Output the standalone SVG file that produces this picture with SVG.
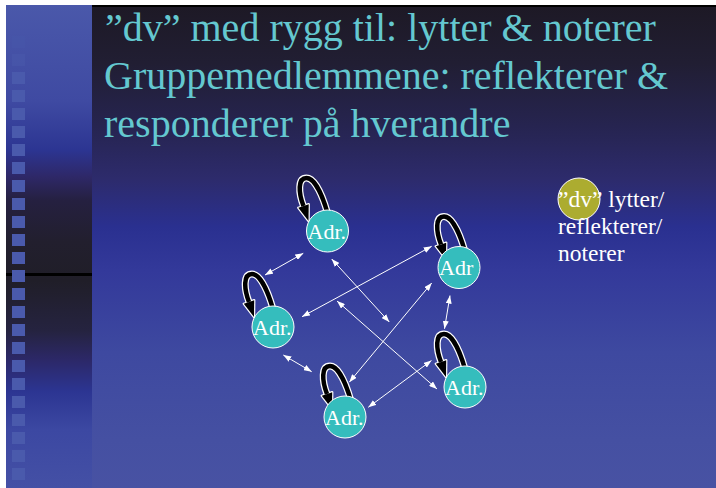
<svg xmlns="http://www.w3.org/2000/svg" xmlns:xlink="http://www.w3.org/1999/xlink" width="716" height="488" viewBox="0 0 716 488">
<defs>
<linearGradient id="gMain" x1="0" y1="5" x2="0" y2="488" gradientUnits="userSpaceOnUse">
<stop offset="0" stop-color="#1d1925"/>
<stop offset="0.12" stop-color="#211e33"/>
<stop offset="0.25" stop-color="#262450"/>
<stop offset="0.36" stop-color="#2d2b6c"/>
<stop offset="0.46" stop-color="#2a3090"/>
<stop offset="0.55" stop-color="#33399a"/>
<stop offset="0.72" stop-color="#3e49a0"/>
<stop offset="0.9" stop-color="#4550a2"/>
<stop offset="1" stop-color="#4852a3"/>
</linearGradient>
<linearGradient id="gStrip" x1="0" y1="5" x2="0" y2="488" gradientUnits="userSpaceOnUse">
<stop offset="0" stop-color="#4a58aa"/>
<stop offset="0.2" stop-color="#3f4aa2"/>
<stop offset="0.3" stop-color="#2c3592"/>
<stop offset="0.355" stop-color="#2e2868"/>
<stop offset="0.405" stop-color="#252040"/>
<stop offset="0.49" stop-color="#221f2e"/>
<stop offset="0.57" stop-color="#201e28"/>
<stop offset="0.675" stop-color="#252340"/>
<stop offset="0.735" stop-color="#2c2868"/>
<stop offset="0.8" stop-color="#2c3592"/>
<stop offset="0.88" stop-color="#3c48a2"/>
<stop offset="1" stop-color="#4450a5"/>
</linearGradient>
<marker id="ah" viewBox="0 0 8 6" refX="8" refY="3" markerWidth="8" markerHeight="6" markerUnits="userSpaceOnUse" orient="auto-start-reverse">
<path d="M0,0 L8,3 L0,6 z" fill="#ffffff"/>
</marker>
<g id="loop">
<path d="M0,-18 C-4,-32 -12,-53 -21,-53 C-30,-53 -29,-38 -24,-25" fill="none" stroke="#ffffff" stroke-width="7"/>
<polygon points="-19,-10 -29.2,-23.2 -18.8,-26.8" fill="#ffffff" stroke="#ffffff" stroke-width="2.4" stroke-linejoin="round"/>
<path d="M0,-18 C-4,-32 -12,-53 -21,-53 C-30,-53 -29,-38 -24,-25" fill="none" stroke="#000000" stroke-width="4.5"/>
<polygon points="-19,-10 -29.2,-23.2 -18.8,-26.8" fill="#000000"/>
</g>
</defs>
<style>
.title{font-family:"Liberation Serif","Times New Roman",serif;font-size:40px;fill:#64c8d0}
.legend{font-family:"Liberation Serif","Times New Roman",serif;font-size:23.5px;fill:#ffffff}
.node circle{fill:#35bdbd;stroke:#ffffff;stroke-width:1}
.node text{font-family:"Liberation Serif","Times New Roman",serif;font-size:22px;fill:#ffffff}
.conn line{stroke:#ffffff;stroke-width:1;marker-start:url(#ah);marker-end:url(#ah)}
.sq{fill:#4a5aac}
</style>
<rect x="0" y="0" width="716" height="488" fill="#ffffff"/>
<rect x="92" y="5" width="624" height="483" fill="url(#gMain)"/>
<rect x="92" y="5" width="624" height="2" fill="#000000"/>
<rect x="6" y="5" width="86" height="483" fill="url(#gStrip)"/>
<rect x="6" y="273" width="86" height="3" fill="#000000"/>
<g id="squares">
<rect class="sq" x="12" y="36" width="13" height="12" opacity="0.3"/>
<rect class="sq" x="12" y="54" width="13" height="12" opacity="0.5"/>
<rect class="sq" x="12" y="72" width="13" height="12"/>
<rect class="sq" x="12" y="90" width="13" height="12"/>
<rect class="sq" x="12" y="108" width="13" height="12"/>
<rect class="sq" x="12" y="126" width="13" height="12"/>
<rect class="sq" x="12" y="144" width="13" height="12"/>
<rect class="sq" x="12" y="162" width="13" height="12"/>
<rect class="sq" x="12" y="180" width="13" height="12"/>
<rect class="sq" x="12" y="198" width="13" height="12"/>
<rect class="sq" x="12" y="216" width="13" height="12"/>
<rect class="sq" x="12" y="234" width="13" height="12"/>
<rect class="sq" x="12" y="252" width="13" height="12"/>
<rect class="sq" x="12" y="270" width="13" height="12"/>
<rect class="sq" x="12" y="288" width="13" height="12"/>
<rect class="sq" x="12" y="306" width="13" height="12"/>
<rect class="sq" x="12" y="324" width="13" height="12"/>
<rect class="sq" x="12" y="342" width="13" height="12"/>
<rect class="sq" x="12" y="360" width="13" height="12"/>
<rect class="sq" x="12" y="378" width="13" height="12"/>
<rect class="sq" x="12" y="396" width="13" height="12"/>
<rect class="sq" x="12" y="414" width="13" height="12"/>
<rect class="sq" x="12" y="432" width="13" height="12"/>
<rect class="sq" x="12" y="450" width="13" height="12"/>
<rect class="sq" x="12" y="468" width="13" height="12"/>
</g>
<g id="title">
<text class="title" x="105" y="41">”dv” med rygg til: lytter &amp; noterer</text>
<text class="title" x="104" y="89">Gruppemedlemmene: reflekterer &amp;</text>
<text class="title" x="104" y="137">responderer på hverandre</text>
</g>
<g id="connectors" class="conn">
<line x1="303.3" y1="253.3" x2="265" y2="275"/>
<line x1="331.7" y1="259" x2="389.3" y2="322"/>
<line x1="302" y1="316.7" x2="431.7" y2="246.3"/>
<line x1="337" y1="301" x2="437" y2="389"/>
<line x1="349.3" y1="382.2" x2="431.7" y2="283"/>
<line x1="450" y1="295.5" x2="444.5" y2="328.8"/>
<line x1="283.3" y1="355" x2="311.7" y2="371.7"/>
<line x1="368.3" y1="407.3" x2="431.5" y2="360.5"/>
</g>
<g id="node1" class="node">
<use xlink:href="#loop" href="#loop" transform="translate(327.5,231)"/>
<circle cx="327.5" cy="231" r="21"/>
<text x="307.5" y="238.5">Adr.</text>
</g>
<g id="node2" class="node">
<use xlink:href="#loop" href="#loop" transform="translate(273,327)"/>
<circle cx="273" cy="327" r="21"/>
<text x="253" y="334.5">Adr.</text>
</g>
<g id="node3" class="node">
<use xlink:href="#loop" href="#loop" transform="translate(465,269.5)"/>
<circle cx="459" cy="267.5" r="21"/>
<text x="439" y="275">Adr</text>
</g>
<g id="node4" class="node">
<use xlink:href="#loop" href="#loop" transform="translate(351,419)"/>
<circle cx="345" cy="417" r="21"/>
<text x="325" y="424.5">Adr.</text>
</g>
<g id="node5" class="node">
<use xlink:href="#loop" href="#loop" transform="translate(465,387)"/>
<circle cx="465" cy="387" r="21"/>
<text x="445" y="394.5">Adr.</text>
</g>
<g id="legend">
<circle cx="579" cy="199" r="21" fill="#acac30" stroke="#ffffff" stroke-width="1"/>
<text class="legend" x="558" y="207">”dv” lytter/</text>
<text class="legend" x="558" y="234">reflekterer/</text>
<text class="legend" x="558" y="261">noterer</text>
</g>
</svg>
